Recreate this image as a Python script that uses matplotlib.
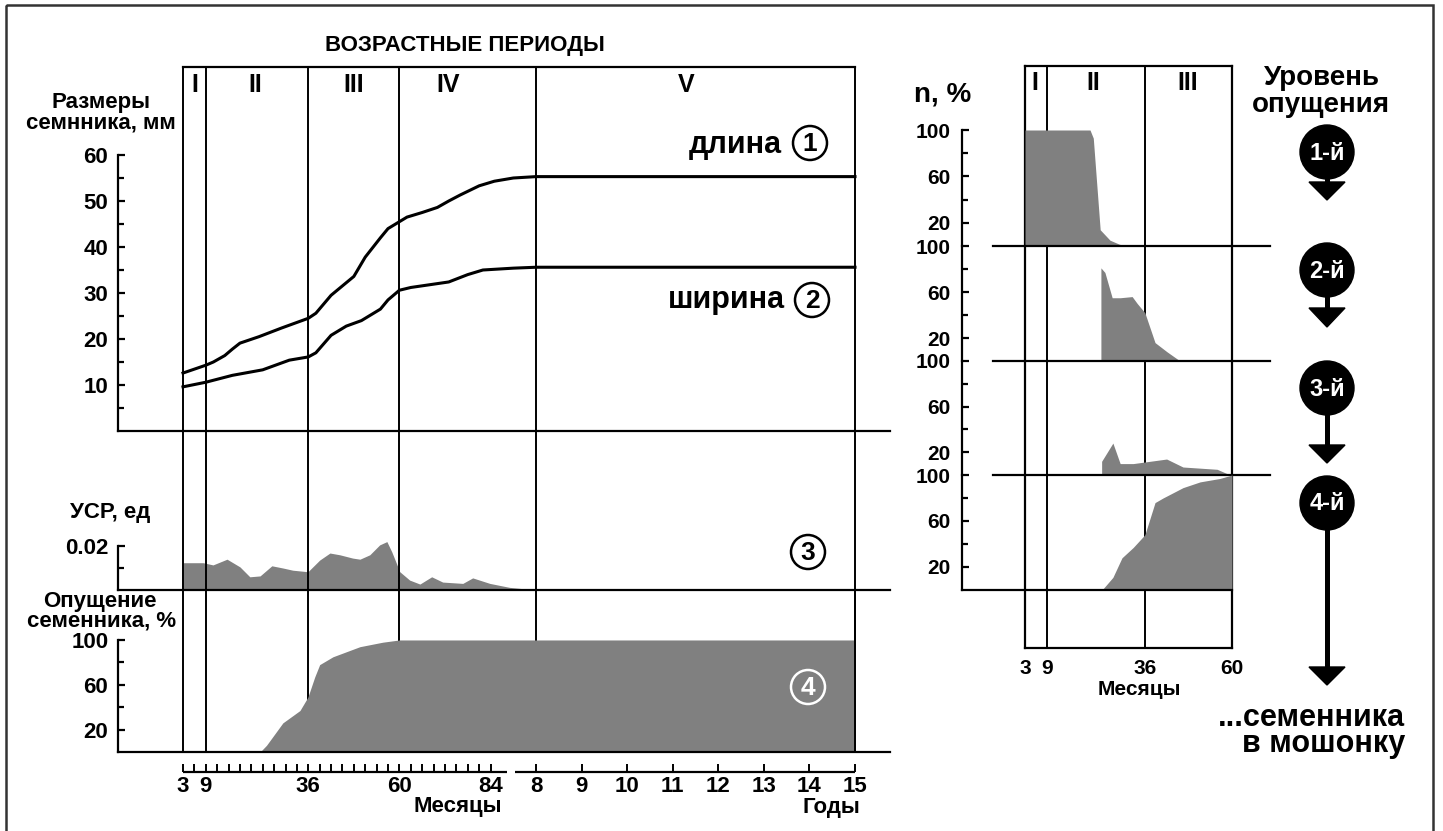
import matplotlib
matplotlib.use('Agg')
import matplotlib.pyplot as plt
from matplotlib.patches import Circle, Polygon, Rectangle

plt.rcParams['font.family'] = ['Liberation Sans', 'DejaVu Sans']
plt.rcParams['font.weight'] = 'bold'

W, H = 1443, 831
GRAY = '#808080'

# ---------------- data ----------------
period_bounds = [3, 9, 36, 60, 96, 180]
period_names = ['I', 'II', 'III', 'IV', 'V']
period_label_x = [6.2, 22, 48, 72.8, 135.5]

len_months = [3, 9, 11, 14, 16, 18, 23, 29, 36, 38, 42, 48, 51, 55, 57, 60,
              62, 66, 70, 73, 76, 81, 85, 90, 96, 180]
length_mm = [12.6, 14.3, 15.0, 16.4, 17.8, 19.1, 20.5, 22.4, 24.5, 25.6, 29.5,
             33.6, 37.8, 42.0, 44.0, 45.5, 46.5, 47.5, 48.6, 50.0, 51.3, 53.3,
             54.3, 55.0, 55.3, 55.3]

wid_months = [3, 9, 16, 24, 31, 36, 38, 42, 46, 50, 55, 57, 60, 63, 68, 73,
              78, 82, 90, 96, 180]
width_mm = [9.6, 10.6, 12.1, 13.3, 15.4, 16.1, 17.0, 20.8, 22.8, 24.0, 26.5,
            28.5, 30.6, 31.2, 31.8, 32.4, 34.0, 35.0, 35.4, 35.6, 35.6]

usr_months = [3, 8.3, 10.9, 14.6, 18, 20.6, 23.3, 26.4, 29.3, 31.9, 35.9, 39,
              41.7, 44.3, 47.7, 49.6, 52.2, 54.8, 56.7, 58, 60.1, 62.7, 65.4,
              68.5, 71.4, 76.7, 79.3, 83.8, 89, 96]
usr_vals = [0.0124, 0.0124, 0.0114, 0.014, 0.0105, 0.006, 0.0064, 0.011, 0.01,
            0.009, 0.0083, 0.0136, 0.0168, 0.016, 0.0145, 0.014, 0.016, 0.0205,
            0.022, 0.0173, 0.0083, 0.0045, 0.0027, 0.006, 0.0036, 0.003,
            0.0055, 0.003, 0.0012, 0.0]

desc_months = [3, 23.3, 25, 29.3, 33.8, 35.9, 37.7, 39, 42.5, 49.6, 55.6, 60, 180]
desc_pct = [0, 0, 6, 26, 37, 49, 67, 78, 85, 94, 98, 100, 100]

month_ticks = list(range(3, 85, 3))
month_named = {3: '3', 9: '9', 36: '36', 60: '60', 84: '84'}
year_ticks = [96, 108, 120, 132, 144, 156, 168, 180]
year_labels = ['8', '9', '10', '11', '12', '13', '14', '15']

right_bounds = [3, 9, 36, 60]
right_names = ['I', 'II', 'III']
right_label_x = [5.75, 21.7, 47.9]
right_ticks = [3, 9, 36, 60]

levels = ['1-й', '2-й', '3-й', '4-й']
lvl_months = [
    [3, 20.9, 21.8, 23.7, 26.4, 29, 31],
    [23.9, 23.9, 25, 27, 29.2, 32.5, 33.9, 36, 38.8, 42.1, 45.7],
    [24.1, 24.1, 27.2, 29.2, 32.8, 42, 46.5, 55.9, 59.5],
    [24.2, 27.2, 29.7, 32.8, 36, 38.8, 41, 46.5, 51.2, 56.7, 60],
]
lvl_pct = [
    [100, 100, 93, 14, 5, 1.5, 0],
    [0, 81, 77, 55, 55, 56, 50, 42, 16, 8, 0],
    [0, 12, 28, 10, 10, 14, 7, 5, 0],
    [0, 11, 28, 37, 48, 76, 80, 89, 94, 97, 100],
]

# ---------------- layout helpers ----------------
fig = plt.figure(figsize=(W / 100, H / 100), dpi=100)


def px_axes(x0, y0, x1, y1):
    return fig.add_axes([x0 / W, 1 - y1 / H, (x1 - x0) / W, (y1 - y0) / H])


def style_left(ax, lo, hi, major, minor, size=16, pad=7):
    for s in ['top', 'right']:
        ax.spines[s].set_visible(False)
    ax.spines['left'].set_bounds(lo, hi)
    for s in ['left', 'bottom']:
        ax.spines[s].set_linewidth(1.6)
    ax.set_xticks([])
    ax.set_yticks(major)
    ax.set_yticks(minor, minor=True)
    ax.tick_params(axis='y', which='major', direction='in', length=5,
                   width=1.6, labelsize=size, pad=pad)
    ax.tick_params(axis='y', which='minor', direction='in', length=4, width=1.6)
    ax.set_facecolor('none')


LX = (-14.12, 189.22)

# sizes panel
ax1 = px_axes(118, 67, 890, 431)
ax1.set_xlim(*LX)
ax1.set_ylim(0, 79.13)
style_left(ax1, 0, 60, [10, 20, 30, 40, 50, 60], [5, 15, 25, 35, 45, 55])
ax1.spines['top'].set_visible(True)
ax1.spines['top'].set_bounds(3, 180)
ax1.spines['top'].set_linewidth(1.6)
for b in period_bounds:
    ax1.axvline(b, color='black', lw=1.4)
ax1.plot(len_months, length_mm, color='black', lw=2.2)
ax1.plot(wid_months, width_mm, color='black', lw=2.2)
for name, xm in zip(period_names, period_label_x):
    ax1.text(xm, 73.7, name, ha='center', va='baseline', fontsize=18,
             fontweight='heavy')

# USR panel
ax2 = px_axes(118, 431, 890, 590)
ax2.set_xlim(*LX)
ax2.set_ylim(0, 0.07227)
style_left(ax2, 0, 0.02, [0.02], [0.01])
ax2.fill_between(usr_months, usr_vals, color=GRAY, lw=0, zorder=2)
for b in period_bounds:
    ax2.axvline(b, color='black', lw=1.4, zorder=3)

# descent panel
ax3 = px_axes(118, 590, 890, 752)
ax3.set_xlim(*LX)
ax3.set_ylim(0, 144.6)
style_left(ax3, 0, 100, [20, 60, 100], [40, 80])
for b in period_bounds:
    ax3.axvline(b, color='black', lw=1.4, zorder=1)
ax3.fill_between(desc_months, desc_pct, color=GRAY, lw=0, zorder=2)
ax3.axvline(180, color='black', lw=1.4, zorder=3)

# bottom time axis
axx = px_axes(118, 752, 890, 772)
axx.set_xlim(*LX)
axx.set_ylim(0, 1)
for s in axx.spines.values():
    s.set_visible(False)
axx.set_facecolor('none')
axx.set_yticks([])
axx.set_xticks(month_ticks + year_ticks,
               [month_named.get(m, '') for m in month_ticks] + year_labels)
axx.tick_params(axis='x', direction='in', length=6, width=1.4, labelsize=16, pad=3)
axx.hlines(0, 3, 88.3, color='black', lw=1.6, clip_on=False)
axx.hlines(0, 90.4, 180, color='black', lw=1.6, clip_on=False)

# right block: frame
axf = px_axes(1025, 66, 1232, 648)
axf.set_xlim(3, 60)
axf.set_ylim(0, 1)
for s in axf.spines.values():
    s.set_linewidth(1.6)
axf.set_yticks([])
axf.set_xticks(right_ticks, [str(t) for t in right_ticks])
axf.tick_params(axis='x', length=0, labelsize=15, pad=8)
for b in right_bounds[1:-1]:
    axf.axvline(b, color='black', lw=1.4)
for name, xm in zip(right_names, right_label_x):
    axf.text(xm, 0.959, name, ha='center', va='baseline', fontsize=18,
             fontweight='heavy')

RX = (-14.35, 70.46)
tops = [130, 246, 361, 475]
bots = [246, 361, 475, 590]
for i in range(4):
    ax = px_axes(962, tops[i], 1270, bots[i])
    ax.set_xlim(*RX)
    ax.set_ylim(0, 100)
    style_left(ax, 0, 100, [20, 60, 100], [40, 80], size=15, pad=8)
    ax.fill_between(lvl_months[i], lvl_pct[i], color=GRAY, lw=0, zorder=2)
    if i < 3:
        ax.spines['bottom'].set_bounds(-5.81, RX[1])
    else:
        ax.spines['bottom'].set_bounds(RX[0], 60)

# ---------------- overlay: texts and decorations ----------------
ov = fig.add_axes([0, 0, 1, 1])
ov.set_xlim(0, W)
ov.set_ylim(H, 0)
ov.axis('off')
ov.set_facecolor('none')

ov.add_patch(Rectangle((6, 5), 1427, 840, fill=False, ec='#333333', lw=1.8))

ov.text(465, 51, 'ВОЗРАСТНЫЕ ПЕРИОДЫ', ha='center', va='baseline', fontsize=16)
ov.text(101, 108, 'Размеры', ha='center', va='baseline', fontsize=16)
ov.text(101, 128, 'семнника, мм', ha='center', va='baseline', fontsize=16)
ov.text(110, 518, 'УСР, ед', ha='center', va='baseline', fontsize=16)
ov.text(100, 607, 'Опущение', ha='center', va='baseline', fontsize=16)
ov.text(102, 627, 'семенника, %', ha='center', va='baseline', fontsize=16)

ov.text(782, 153, 'длина', ha='right', va='baseline', fontsize=22)
ov.text(785, 308, 'ширина', ha='right', va='baseline', fontsize=22)


def circ_num(x, y, s, fg, edge):
    ov.add_patch(Circle((x, y), 17, fill=False, ec=edge, lw=1.8))
    ov.text(x, y + 1, s, ha='center', va='center', fontsize=19, color=fg)


circ_num(810, 143, '1', 'black', 'black')
circ_num(812, 300, '2', 'black', 'black')
circ_num(808, 552, '3', 'black', 'black')
circ_num(808, 687, '4', 'white', 'white')

ov.text(458, 812, 'Месяцы', ha='center', va='baseline', fontsize=16)
ov.text(831, 813, 'Годы', ha='center', va='baseline', fontsize=16)
ov.text(1139, 695, 'Месяцы', ha='center', va='baseline', fontsize=15)

ov.text(943, 102, 'n, %', ha='center', va='baseline', fontsize=20)
ov.text(1322, 85, 'Уровень', ha='center', va='baseline', fontsize=20)
ov.text(1321, 112, 'опущения', ha='center', va='baseline', fontsize=20)
ov.text(1405, 752, '...семенника\nв мошонку', ha='right', va='baseline',
        multialignment='right', fontsize=22, linespacing=0.82)

cx = 1327
lvl_y = [152, 270, 388, 503]
tri = [(182, 200), (308, 327), (445, 463), (667, 685)]
for name, cy, (t0, t1) in zip(levels, lvl_y, tri):
    ov.plot([cx, cx], [cy, t0 + 2], color='black', lw=3.6, solid_capstyle='butt')
    ov.add_patch(Polygon([(cx - 18, t0), (cx + 18, t0), (cx, t1)],
                         closed=True, fc='black', ec='black'))
    ov.add_patch(Circle((cx, cy), 27, fc='black', ec='black'))
    ov.text(cx, cy + 1, name, ha='center', va='center', fontsize=17,
            color='white')

fig.savefig('out.png', dpi=100)
